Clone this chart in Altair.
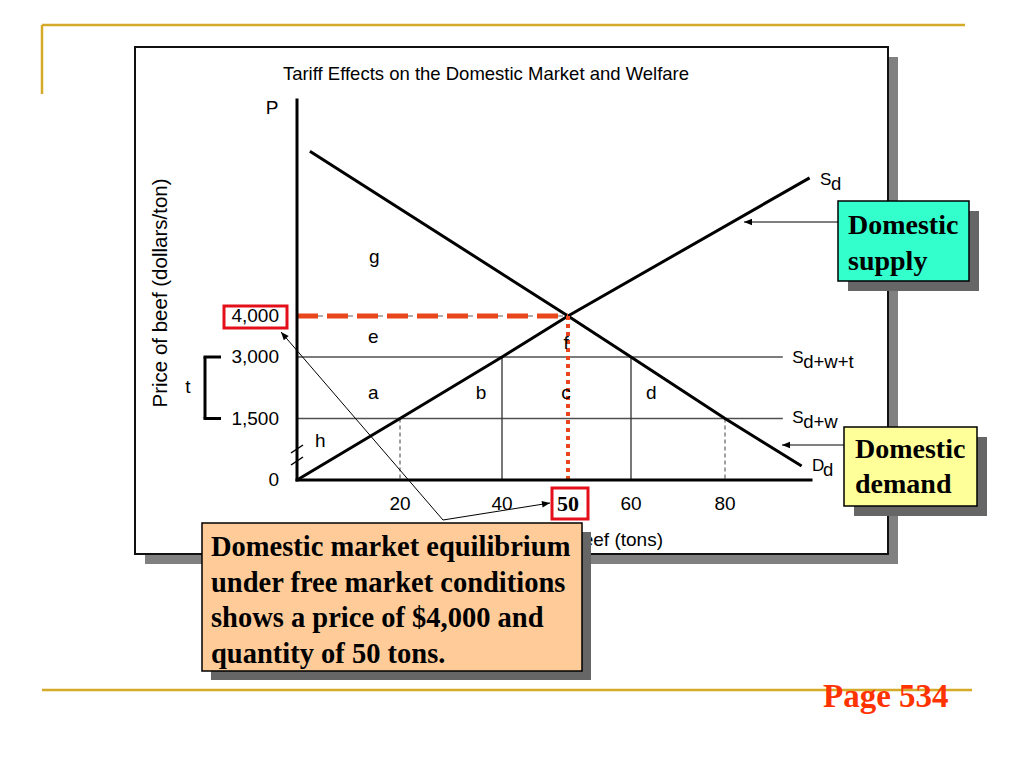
import altair as alt
import pandas as pd

# ---------------- values ----------------
x_stops = [0, 20, 40, 50, 60, 80, 100]          # tons (hand-drawn, non-uniform axis)
supply_q = [0, 20, 40, 50, 98]
supply_p = [0, 1500, 3000, 4000, 7370]
demand_q = [2.5, 50, 60, 80, 96.3]
demand_p = [8020, 4000, 3000, 1500, 340]
world_prices = [3000, 1500]                     # S d+w+t, S d+w
world_end_q = 92.3
guide_q = [20, 40, 60, 80]
guide_top = [1500, 3000, 3000, 1500]
guide_dashed = [True, False, False, True]
eq_q, eq_p = 50, 4000
axis_q_end, axis_p_end = 98.3, 9270
ytick_vals = [0, 1500, 3000, 4000]
ytick_text = ["0", "1,500", "3,000", "4,000"]
xtick_vals = [20, 40, 60, 80]
xtick_text = ["20", "40", "60", "80"]
area_text = ["g", "e", "f", "a", "b", "c", "d", "h"]
area_q = [15, 14.8, 49.7, 14.8, 35.9, 49.7, 64.3, 4.5]
area_p = [5440, 3490, 3340, 2120, 2120, 2120, 2120, 950]
curve_main = ["S", "S", "S", "D"]
curve_sub = ["d", "d+w+t", "d+w", "d"]
curve_q = [100.2, 94.3, 94.3, 98.5]
curve_p = [7320, 2980, 1510, 340]
title_text = "Tariff Effects on the Domestic Market and Welfare"
y_title = "Price of beef (dollars/ton)"
x_title = "Quantity of beef (tons)"
supply_note = ["Domestic", "supply"]
demand_note = ["Domestic", "demand"]
eq_note = ["Domestic market equilibrium", "under free market conditions",
           "shows a price of $4,000 and", "quantity of 50 tons."]
page_label = "Page 534"

# ---------------- styling / helpers ----------------
SANS = "Liberation Sans"
SERIF = "Liberation Serif"
GOLD = "#D4AA28"
RED_BOX = "#E3101A"
RED_EQ = "#E9461C"
M = 8  # page margin

xs = alt.Scale(domain=x_stops, range=[v - M for v in [297, 400, 502, 568, 631, 725, 819]],
               nice=False, zero=False)
ys = alt.Scale(domain=[0, 9000], range=[480 - M, 111 - M], nice=False, zero=False)

one = pd.DataFrame({"k": [0]})


def X(f):
    return alt.X(f, type="quantitative", scale=xs, axis=None)


def Y(f):
    return alt.Y(f, type="quantitative", scale=ys, axis=None)


def seg(x1, y1, x2, y2, color="black", w=1.0, dash=None):
    kw = dict(color=color, strokeWidth=w)
    if dash:
        kw["strokeDash"] = dash
    return alt.Chart(one).mark_rule(**kw).encode(
        x=alt.value(x1 - M), y=alt.value(y1 - M), x2=alt.value(x2 - M), y2=alt.value(y2 - M))


def box(x1, y1, x2, y2, fill=None, stroke=None, sw=1.0):
    kw = {}
    if fill:
        kw["fill"] = fill
    else:
        kw["fillOpacity"] = 0
    if stroke:
        kw.update(stroke=stroke, strokeWidth=sw)
    return alt.Chart(one).mark_rect(**kw).encode(
        x=alt.value(x1 - M), y=alt.value(y1 - M), x2=alt.value(x2 - M), y2=alt.value(y2 - M))


def txt(s, x, y, size, font=SANS, weight="normal", align="left", baseline="middle",
        color="black", angle=None):
    kw = dict(text=s, font=font, fontSize=size, fontWeight=weight, align=align,
              baseline=baseline, color=color)
    if angle:
        kw["angle"] = angle
    return alt.Chart(one).mark_text(**kw).encode(x=alt.value(x - M), y=alt.value(y - M))


def head(x, y, angle, size=256):
    return alt.Chart(one).mark_point(shape="M0,0L-0.4,1L0.4,1Z", filled=True, color="black",
                                     opacity=1, size=size, angle=angle).encode(
        x=alt.value(x - M), y=alt.value(y - M))


layers = []

# slide decoration
layers += [seg(42, 25, 965, 25, GOLD, 2.5), seg(42, 25, 42, 94, GOLD, 2.5),
           seg(42, 690, 972, 690, GOLD, 2.5)]

# chart frame with shadow
layers += [box(145, 57, 898, 564, fill="#808080"),
           box(135, 47, 888, 554, fill="white", stroke="#111111", sw=2)]

# titles
layers += [txt(title_text, 486, 74, 18.5, align="center"),
           txt(y_title, 161, 293, 20.5, align="center", angle=270),
           txt(x_title, 663, 540, 19, align="right")]

# world price lines
wp = pd.DataFrame({"P": world_prices, "q0": [0] * len(world_prices),
                   "q1": [world_end_q] * len(world_prices)})
layers.append(alt.Chart(wp).mark_rule(color="#505050", strokeWidth=1.3).encode(
    y=Y("P"), x=X("q0"), x2="q1"))

# vertical guides
gd = pd.DataFrame({"q": guide_q, "top": guide_top, "bot": [0] * len(guide_q),
                   "dashed": guide_dashed})
layers.append(alt.Chart(gd[gd.dashed]).mark_rule(color="#404040", strokeWidth=1,
                                                  strokeDash=[4, 3]).encode(
    x=X("q"), y=Y("top"), y2="bot"))
layers.append(alt.Chart(gd[~gd.dashed]).mark_rule(color="#303030", strokeWidth=1.3).encode(
    x=X("q"), y=Y("top"), y2="bot"))

# equilibrium price: underlying grey dashed line
eqh = pd.DataFrame({"P": [eq_p], "q0": [0], "q1": [eq_q]})
layers.append(alt.Chart(eqh).mark_rule(color="#606060", strokeWidth=1, strokeDash=[6, 4]).encode(
    y=Y("P"), x=X("q0"), x2="q1"))

# supply & demand
layers.append(alt.Chart(pd.DataFrame({"q": supply_q, "P": supply_p})).mark_line(
    color="black", strokeWidth=3).encode(x=X("q"), y=Y("P")))
layers.append(alt.Chart(pd.DataFrame({"q": demand_q, "P": demand_p})).mark_line(
    color="black", strokeWidth=3).encode(x=X("q"), y=Y("P")))

# red equilibrium markers
layers.append(alt.Chart(eqh).mark_rule(color=RED_EQ, strokeWidth=5, strokeDash=[21, 9]).encode(
    y=Y("P"), x=X("q0"), x2="q1"))
eqv = pd.DataFrame({"q": [eq_q], "top": [eq_p], "bot": [0]})
layers.append(alt.Chart(eqv).mark_rule(color=RED_EQ, strokeWidth=4, strokeDash=[4, 4]).encode(
    x=X("q"), y=Y("top"), y2="bot"))

# axes
layers.append(alt.Chart(pd.DataFrame({"P": [0], "q0": [0], "q1": [axis_q_end]})).mark_rule(
    color="black", strokeWidth=3, strokeCap="square").encode(y=Y("P"), x=X("q0"), x2="q1"))
layers.append(alt.Chart(pd.DataFrame({"q": [0], "p0": [0], "p1": [axis_p_end]})).mark_rule(
    color="black", strokeWidth=3, strokeCap="square").encode(x=X("q"), y=Y("p0"), y2="p1"))
# axis break marks
layers += [seg(291, 453, 303, 445, "black", 1.5), seg(291, 465, 303, 457, "black", 1.5)]

# tick labels
layers.append(alt.Chart(pd.DataFrame({"P": ytick_vals, "t": ytick_text})).mark_text(
    font=SANS, fontSize=19, align="right", baseline="middle", color="black").encode(
    y=Y("P"), x=alt.value(279 - M), text="t:N"))
layers.append(alt.Chart(pd.DataFrame({"q": xtick_vals, "t": xtick_text})).mark_text(
    font=SANS, fontSize=19, align="center", baseline="middle", color="black").encode(
    x=X("q"), y=alt.value(504 - M), text="t:N"))
layers.append(txt("P", 272, 108, 19, align="center"))

# tariff bracket
br = pd.DataFrame({"p0": [max(world_prices)], "p1": [min(world_prices)]})
layers.append(alt.Chart(br).mark_rule(color="black", strokeWidth=3).encode(
    x=alt.value(205 - M), y=Y("p0"), y2="p1"))
layers.append(alt.Chart(pd.DataFrame({"P": world_prices})).mark_rule(
    color="black", strokeWidth=3).encode(y=Y("P"), x=alt.value(203.5 - M), x2=alt.value(221 - M)))
layers.append(txt("t", 188, 387, 19, align="center"))

# area letters
layers.append(alt.Chart(pd.DataFrame({"q": area_q, "P": area_p, "t": area_text})).mark_text(
    font=SANS, fontSize=19, align="center", baseline="middle", color="black").encode(
    x=X("q"), y=Y("P"), text="t:N"))

# curve labels with subscripts
cl = pd.DataFrame({"q": curve_q, "P": curve_p, "m": curve_main, "s": curve_sub})
layers.append(alt.Chart(cl).mark_text(font=SANS, fontSize=17, align="left", baseline="middle",
                                      color="black").encode(x=X("q"), y=Y("P"), text="m:N"))
layers.append(alt.Chart(cl).mark_text(font=SANS, fontSize=18.5, align="left", baseline="middle",
                                      color="black", dx=11, dy=4).encode(
    x=X("q"), y=Y("P"), text="s:N"))

# red box round 4,000
layers.append(box(224, 306, 287, 328, stroke=RED_BOX, sw=3))

# arrows
layers += [seg(443, 520, 281, 332), head(281, 332, 319),
           seg(443, 520, 550, 503), head(550, 503, 81)]
layers += [seg(838, 222, 744, 222), head(744, 222, 270),
           seg(844, 445, 782, 445), head(782, 445, 270)]

# callout: domestic supply
layers += [box(848, 211, 979, 291, fill="#666666"),
           box(838, 201, 969, 281, fill="#33FFCC", stroke="black", sw=1.5),
           txt(supply_note[0], 848, 234, 28, font=SERIF, weight="bold", baseline="alphabetic"),
           txt(supply_note[1], 848, 270, 28, font=SERIF, weight="bold", baseline="alphabetic")]
# callout: domestic demand
layers += [box(854, 437, 987, 516, fill="#666666"),
           box(844, 427, 977, 506, fill="#FFFF99", stroke="black", sw=1.5),
           txt(demand_note[0], 855, 458, 28, font=SERIF, weight="bold", baseline="alphabetic"),
           txt(demand_note[1], 855, 493, 28, font=SERIF, weight="bold", baseline="alphabetic")]
# callout: equilibrium
layers += [box(211, 532, 591, 680, fill="#666666"),
           box(202, 523, 582, 671, fill="#FFCC99", stroke="black", sw=1.5)]
for i, line in enumerate(eq_note):
    layers.append(txt(line, 211, 556 + 35.5 * i, 28.5, font=SERIF, weight="bold",
                      baseline="alphabetic"))

# boxed 50
layers.append(box(552, 488, 588, 519, fill="white", stroke=RED_BOX, sw=3))
layers.append(alt.Chart(pd.DataFrame({"q": [eq_q], "t": [str(eq_q)]})).mark_text(
    font=SERIF, fontWeight="bold", fontSize=22, align="center", baseline="middle",
    color="black").encode(x=X("q"), y=alt.value(504 - M), text="t:N"))

# page label
layers.append(txt(page_label, 823, 707, 33, font=SERIF, weight="bold", baseline="alphabetic",
                  color="#FF3300"))

chart = alt.layer(*layers).properties(
    width=1008, height=752, autosize="none", padding=0, background="white"
).configure_view(stroke=None)

chart.save("out.html", embed_options={"renderer": "svg", "actions": False})
